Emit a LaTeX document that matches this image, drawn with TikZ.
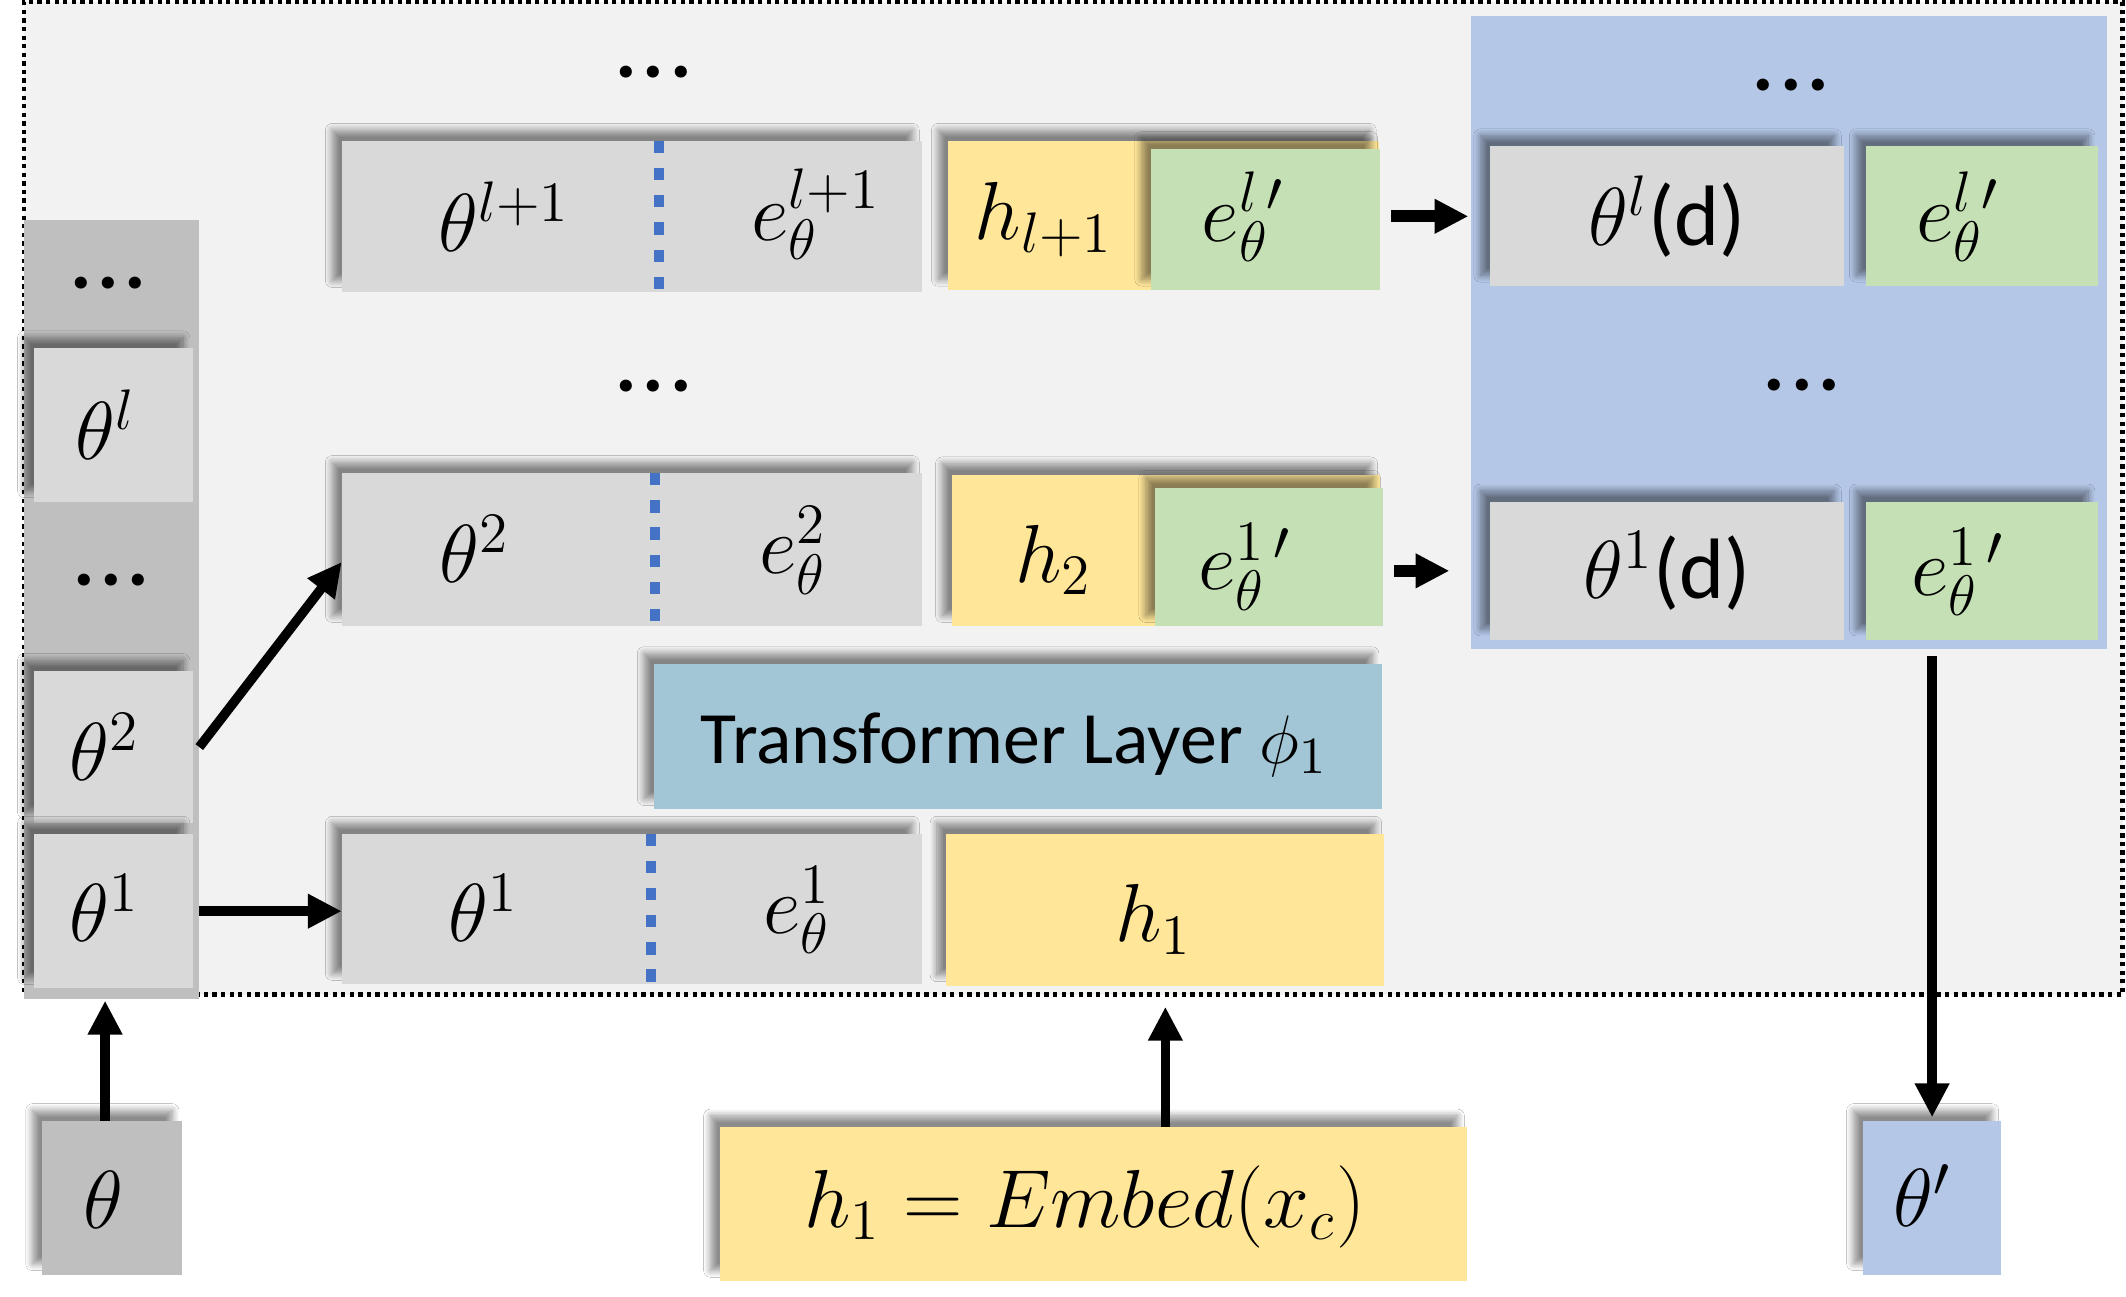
\documentclass[tikz,border=0pt]{standalone}
\usepackage{fontspec}
\setmainfont{Carlito}
\usetikzlibrary{arrows.meta,calc,shadows.blur}
\definecolor{framebg}{HTML}{F2F2F2}
\definecolor{gbox}{HTML}{D9D9D9}
\definecolor{dbox}{HTML}{BFBFBF}
\definecolor{ybox}{HTML}{FFE699}
\definecolor{grbox}{HTML}{C5E0B4}
\definecolor{bbox}{HTML}{B4C7E7}
\definecolor{tbox}{HTML}{A2C6D6}
\definecolor{dashblue}{HTML}{4472C4}
\tikzset{
  shad/.style={blur shadow={shadow xshift=-0.7mm, shadow yshift=0.8mm, shadow blur radius=0.5mm, shadow blur steps=10, shadow opacity=45}},
  plain/.style={draw=none, inner sep=0pt, outer sep=0pt},
  graybox/.style={plain, fill=gbox, shad},
  darkbox/.style={plain, fill=dbox},
  yellowbox/.style={plain, fill=ybox, shad},
  greenbox/.style={plain, fill=grbox, shad},
  bluebox/.style={plain, fill=bbox},
  translayer/.style={plain, fill=tbox, shad},
  framebox/.style={fill=framebg, draw=black, line width=0.9pt, dash pattern=on 0.9pt off 0.9pt, inner sep=0pt},
  lab/.style={inner sep=0pt, font=\fontsize{18}{21}\selectfont},
  dots/.style={inner sep=0pt, font=\fontsize{17}{20}\selectfont\bfseries},
  divider/.style={draw=dashblue, line width=0.7mm, dash pattern=on 0.9mm off 1.1mm},
  arr/.style={line width=0.7mm, -{Triangle[length=2.5mm,width=2.4mm]}},
  barr/.style={line width=0.9mm, -{Triangle[length=2.5mm,width=2.4mm]}},
}
\newcommand{\mydots}{.\kern0.07em.\kern0.07em.}
\begin{document}
\begin{tikzpicture}[x=0.1mm,y=-0.1mm]
\useasboundingbox[fill=white] (0,0) rectangle (1568,956);

% frame
\node[framebox, minimum width=154.8mm, minimum height=73.2mm] (frame) at (791.5,367.5) {};

% left column
\node[darkbox, minimum width=12.9mm, minimum height=57.5mm] (col) at (82.5,449.5) {};
\node[dots] (cdots1) at (80,209) {\mydots};
\node[graybox, minimum width=11.7mm, minimum height=11.3mm] (thl) at (83.5,313.5) {};
\node[lab] (thltxt) at (78,313) {$\theta^{l}$};
\node[dots] (cdots2) at (82,428) {\mydots};
\node[graybox, minimum width=11.7mm, minimum height=11.2mm] (th2c) at (83.5,551) {};
\node[lab] (th2ctxt) at (77,551) {$\theta^{2}$};
\node[graybox, minimum width=11.7mm, minimum height=11.4mm] (th1c) at (83.5,672) {};
\node[lab] (th1ctxt) at (77,670) {$\theta^{1}$};

% top dots
\node[dots] (tdots) at (482,53) {\mydots};
\node[dots] (mdots) at (482,285) {\mydots};

% row l+1
\node[graybox, minimum width=42.8mm, minimum height=11.1mm] (r3g) at (466,159.5) {};
\draw[divider] ($(r3g.north west)+(234,0)$) -- ($(r3g.south west)+(234,0)$);
\node[lab] (r3a) at (372,160) {$\theta^{l+1}$};
\node[lab] (r3b) at (602,158) {$e_\theta^{l+1}$};
\node[yellowbox, minimum width=31.8mm, minimum height=11.0mm] (r3y) at (858,159) {};
\node[lab] (r3h) at (770,162) {$h_{l+1}$};
\node[greenbox, minimum width=16.9mm, minimum height=10.4mm] (r3gr) at (933.5,162) {};
\node[lab] (r3e) at (917,160) {$e_\theta^{l\,\prime}$};

% row 2
\node[graybox, minimum width=42.8mm, minimum height=11.3mm] (r2g) at (466,405.5) {};
\draw[divider] ($(r2g.north west)+(231,0)$) -- ($(r2g.south west)+(231,0)$);
\node[lab] (r2a) at (350,405) {$\theta^{2}$};
\node[lab] (r2b) at (585,406) {$e_\theta^{2}$};
\node[yellowbox, minimum width=31.6mm, minimum height=11.2mm] (r2y) at (860,406) {};
\node[lab] (r2h) at (777,413) {$h_{2}$};
\node[greenbox, minimum width=16.8mm, minimum height=10.2mm] (r2gr) at (936,411) {};
\node[lab] (r2e) at (918,418) {$e_\theta^{1\,\prime}$};

% transformer layer
\node[translayer, minimum width=53.7mm, minimum height=10.7mm] (tl) at (750.5,543.5) {};
\node[inner sep=0pt, font=\fontsize{15.5}{18}\selectfont] (tltxt) at (748,549) {Transformer Layer $\phi_1$};

% row 1
\node[graybox, minimum width=42.8mm, minimum height=11.1mm] (r1g) at (466,670.5) {};
\draw[divider] ($(r1g.north west)+(228,0)$) -- ($(r1g.south west)+(228,0)$);
\node[lab] (r1a) at (357,670) {$\theta^{1}$};
\node[lab] (r1b) at (588,671) {$e_\theta^{1}$};
\node[yellowbox, minimum width=32.3mm, minimum height=11.2mm] (r1y) at (859.5,671) {};
\node[lab] (r1h) at (851,678) {$h_{1}$};

% blue panel
\node[bluebox, minimum width=46.9mm, minimum height=46.7mm] (blue) at (1319.5,245.5) {};
\node[dots] (bdots1) at (1321,63) {\mydots};
\node[dots] (bdots2) at (1329,284) {\mydots};
\node[graybox, minimum width=26.1mm, minimum height=10.3mm] (dl) at (1229.5,159.5) {};
\node[lab] (dltxt) at (dl) {$\theta^{l}$(d)};
\node[greenbox, minimum width=17.1mm, minimum height=10.3mm] (el) at (1461.5,159.5) {};
\node[lab] (eltxt) at (1444,160) {$e_\theta^{l\,\prime}$};
\node[graybox, minimum width=26.1mm, minimum height=10.2mm] (d1) at (1229.5,421) {};
\node[lab] (d1txt) at (d1) {$\theta^{1}$(d)};
\node[greenbox, minimum width=17.1mm, minimum height=10.2mm] (e1) at (1461.5,421) {};
\node[lab] (e1txt) at (1444,422) {$e_\theta^{1\,\prime}$};

% bottom boxes
\node[darkbox, shad, minimum width=10.3mm, minimum height=11.3mm] (thb) at (82.5,883.5) {};
\node[lab] (thbtxt) at (76,885) {$\theta$};
\node[yellowbox, minimum width=55.1mm, minimum height=11.4mm] (emb) at (806.5,888) {};
\node[lab, font=\fontsize{18.5}{21}\selectfont] (embtxt) at (800,890) {$h_1 = Embed(x_c)$};
\node[bluebox, shad, minimum width=10.2mm, minimum height=11.3mm] (thp) at (1425,883.5) {};
\node[lab] (thptxt) at (1418,882) {$\theta'$};

% connectors
\draw[arr] (col.east |- th2c) -- ([yshift=-0.9mm]r2g.west);
\draw[arr] (col.east |- th1c) -- (r1g.west |- th1c);
\draw[arr] ([xshift=-0.5mm]thb.north) -- ([xshift=-0.5mm,yshift=-0.1mm]col.south);
\draw[arr] (emb.north -| r1y) -- ([yshift=-1.55mm]r1y.south);
\draw[arr, shorten <=0.5mm, shorten >=0.3mm] (blue.south -| thp) -- (thp.north);
\draw[barr, shorten <=0.8mm, shorten >=1.6mm] (r3gr.east |- dl) -- (dl.west);
\draw[barr, shorten <=0.8mm, shorten >=3mm] (r2gr.east |- d1) -- (d1.west);
\end{tikzpicture}
\end{document}
